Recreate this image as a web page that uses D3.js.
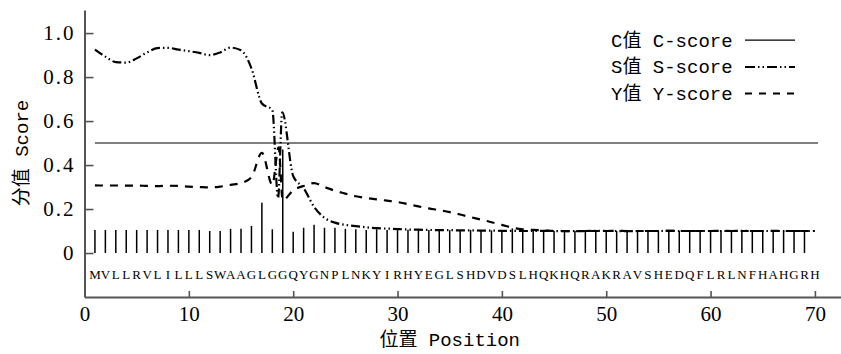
<!DOCTYPE html>
<html>
<head>
<meta charset="utf-8">
<script src="https://cdn.jsdelivr.net/npm/d3@7"></script>
<style>
  body { margin: 0; background: #fff; }
</style>
</head>
<body>
<div id="chart"></div>
<script>
// Signal peptide prediction: C / S / Y scores along the sequence

const sequence = "MVLLRVLILLLSWAAGLGGQYGNPLNKYIRHYEGLSHDVDSLHQKHQRAKRAVSHEDQFLRLNFHAHGRH".split("");

// C-score, one value per residue (positions 1..70)
const cScore = [
  0.105, 0.105, 0.105, 0.105, 0.105, 0.105, 0.105, 0.105, 0.105, 0.105,
  0.105, 0.100, 0.100, 0.110, 0.110, 0.123, 0.229, 0.108, 0.471, 0.097,
  0.115, 0.129, 0.115, 0.115, 0.110, 0.108, 0.105, 0.108, 0.105, 0.104,
  0.106, 0.104, 0.105, 0.103, 0.104, 0.102, 0.105, 0.102, 0.103, 0.100,
  0.112, 0.100, 0.103, 0.100, 0.100, 0.102, 0.100, 0.100, 0.104, 0.100,
  0.100, 0.100, 0.098, 0.100, 0.102, 0.100, 0.100, 0.100, 0.100, 0.100,
  0.102, 0.100, 0.100, 0.100, 0.100, 0.100, 0.100, 0.100, 0.102, 0
];

// S-score (positions, a few in between residues)
const sPos = [
  1, 2, 3, 4, 5, 6, 7, 8, 9, 10, 11, 12, 13, 14, 15, 16, 17, 18, 18.55, 18.95,
  20, 21, 22, 23, 24, 25, 26, 27, 28, 29, 30, 31, 32, 33, 34, 35, 36, 37, 38, 39,
  40, 41, 42, 43, 44, 45, 46, 47, 48, 49, 50, 51, 52, 53, 54, 55, 56, 57, 58, 59,
  60, 61, 62, 63, 64, 65, 66, 67, 68, 69, 70
];
const sScore = [
  0.925, 0.893, 0.868, 0.866, 0.885, 0.912, 0.932, 0.933, 0.925, 0.918,
  0.910, 0.900, 0.912, 0.934, 0.922, 0.840, 0.680, 0.650, 0.250, 0.640,
  0.350, 0.295, 0.210, 0.160, 0.138, 0.128, 0.122, 0.117, 0.113, 0.111,
  0.109, 0.107, 0.106, 0.105, 0.104, 0.104, 0.103, 0.103, 0.102, 0.102,
  0.101, 0.101, 0.100, 0.100, 0.101, 0.100, 0.099, 0.100, 0.100, 0.101,
  0.100, 0.100, 0.099, 0.100, 0.100, 0.100, 0.101, 0.100, 0.100, 0.100,
  0.100, 0.100, 0.100, 0.101, 0.100, 0.100, 0.100, 0.100, 0.100, 0.100,
  0.100
];

// Y-score
const yPos = [
  1, 2, 3, 4, 5, 6, 7, 8, 9, 10, 11, 12, 13, 14, 15, 16, 17, 18, 18.6, 19,
  20, 21, 22, 23, 24, 25, 26, 27, 28, 29, 30, 31, 32, 33, 34, 35, 36, 37, 38, 39,
  40, 41, 42, 43, 44, 45, 46, 47, 48, 49, 50, 51, 52, 53, 54, 55, 56, 57, 58, 59,
  60, 61, 62, 63, 64, 65, 66, 67, 68, 69, 70
];
const yScore = [
  0.308, 0.307, 0.307, 0.306, 0.307, 0.305, 0.304, 0.306, 0.305, 0.302,
  0.300, 0.298, 0.302, 0.310, 0.318, 0.345, 0.456, 0.310, 0.480, 0.240,
  0.285, 0.305, 0.318, 0.300, 0.283, 0.270, 0.258, 0.250, 0.244, 0.238,
  0.232, 0.222, 0.212, 0.203, 0.195, 0.186, 0.175, 0.163, 0.152, 0.140,
  0.128, 0.115, 0.108, 0.105, 0.103, 0.100, 0.100, 0.099, 0.100, 0.100,
  0.100, 0.101, 0.100, 0.100, 0.100, 0.100, 0.101, 0.100, 0.100, 0.100,
  0.100, 0.101, 0.100, 0.100, 0.100, 0.100, 0.101, 0.100, 0.100, 0.100,
  0.100
];

const threshold = 0.5;
const xTicks = [0, 10, 20, 30, 40, 50, 60, 70];
const yTicks = [0, 0.2, 0.4, 0.6, 0.8, 1.0];
const legendLabels = ["C值 C-score", "S值 S-score", "Y值 Y-score"];
const xTitle = "位置 Position";
const yTitle = "分值 Score";

const width = 841, height = 354;
const latinFont = "'Liberation Mono', 'Noto Sans CJK SC', monospace";
const numFont = "'Liberation Serif', serif";

const svg = d3.select("#chart").append("svg")
  .attr("width", width)
  .attr("height", height);

const x = d3.scaleLinear().domain([0, 72.5]).range([84.5, 841]);
const y = d3.scaleLinear().domain([-0.2, 1.105]).range([297, 10]);

// Axes (ticks point inward)
const xAxis = svg.append("g")
  .attr("transform", `translate(0,${y(-0.2)})`)
  .call(d3.axisBottom(x).tickValues(xTicks).tickFormat(d3.format("d"))
    .tickSize(-6).tickSizeOuter(0).tickPadding(9));

const yAxis = svg.append("g")
  .attr("transform", `translate(${x(0)},0)`)
  .call(d3.axisLeft(y).tickValues(yTicks).tickFormat(d => d === 0 ? "0" : d3.format(".1f")(d))
    .tickSize(-9).tickSizeOuter(0).tickPadding(9));

[xAxis, yAxis].forEach(g => {
  g.select(".domain").attr("stroke", "#555").attr("stroke-width", 2);
  g.selectAll(".tick line").attr("stroke", "#555").attr("stroke-width", 1.6);
  g.selectAll(".tick text")
    .attr("fill", "#000")
    .style("font-family", numFont)
    .style("font-size", "21px");
});
yAxis.selectAll(".tick text").style("letter-spacing", "2px");

// Threshold line
svg.append("line")
  .attr("x1", x(1)).attr("x2", x(70.3))
  .attr("y1", y(threshold)).attr("y2", y(threshold))
  .attr("stroke", "#555")
  .attr("stroke-width", 1.6);

// C-score: vertical bars at each residue
svg.append("g")
  .selectAll("line")
  .data(cScore)
  .join("line")
  .attr("x1", (d, i) => x(i + 1))
  .attr("x2", (d, i) => x(i + 1))
  .attr("y1", y(0))
  .attr("y2", d => y(d))
  .attr("stroke", "#000")
  .attr("stroke-width", 1.5);

const line = d3.line()
  .x(d => x(d[0]))
  .y(d => y(d[1]))
  .curve(d3.curveMonotoneX);

// S-score
svg.append("path")
  .datum(sPos.map((p, i) => [p, sScore[i]]))
  .attr("d", line)
  .attr("fill", "none")
  .attr("stroke", "#000")
  .attr("stroke-width", 2.2)
  .attr("stroke-dasharray", "9,3,1.5,3,1.5,3");

// Y-score
svg.append("path")
  .datum(yPos.map((p, i) => [p, yScore[i]]))
  .attr("d", line)
  .attr("fill", "none")
  .attr("stroke", "#000")
  .attr("stroke-width", 2.2)
  .attr("stroke-dasharray", "8,7");

// Sequence letters
svg.append("g")
  .selectAll("text")
  .data(sequence)
  .join("text")
  .attr("x", (d, i) => x(i + 1))
  .attr("y", 279)
  .attr("text-anchor", "middle")
  .style("font-family", numFont)
  .style("font-size", "13px")
  .text(d => d);

// Axis titles
svg.append("text")
  .attr("x", x(35))
  .attr("y", 346)
  .attr("text-anchor", "middle")
  .style("font-family", latinFont)
  .style("font-size", "19px")
  .text(xTitle);

svg.append("text")
  .attr("transform", `translate(28,153) rotate(-90)`)
  .attr("text-anchor", "middle")
  .style("font-family", latinFont)
  .style("font-size", "19px")
  .text(yTitle);

// Legend
const dashes = [null, "10,3,1.5,3,1.5,3", "7,7"];
const legend = svg.append("g");
legendLabels.forEach((label, i) => {
  const row = 46.7 + i * 26.7;
  legend.append("text")
    .attr("x", 611)
    .attr("y", row)
    .style("font-family", latinFont)
    .style("font-size", "19px")
    .text(label);
  legend.append("line")
    .attr("x1", 745).attr("x2", 795)
    .attr("y1", row - 6.5).attr("y2", row - 6.5)
    .attr("stroke", "#000")
    .attr("stroke-width", i === 0 ? 1.2 : 2)
    .attr("stroke-dasharray", dashes[i]);
});
</script>
</body>
</html>
